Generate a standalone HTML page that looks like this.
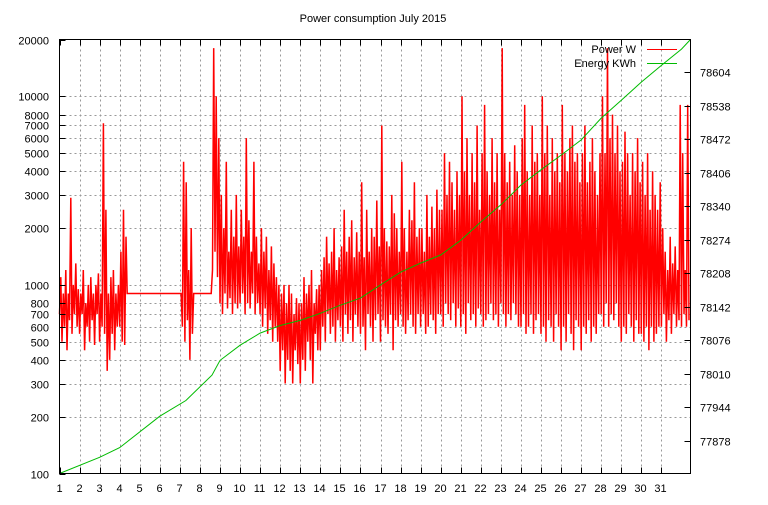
<!DOCTYPE html>
<html><head><meta charset="utf-8"><style>
body{margin:0;background:#fff;font-family:"Liberation Sans",sans-serif;}
svg text{font-family:"Liberation Sans",sans-serif;font-size:11px;fill:#000;}
</style></head><body>
<svg id="chart" width="768" height="500" xmlns="http://www.w3.org/2000/svg">
<rect x="0" y="0" width="768" height="500" fill="#fff"/>
<text x="373" y="22" text-anchor="middle">Power consumption July 2015</text>
<g id="grid"></g>
<g id="series"></g>
<rect x="59.5" y="39.5" width="631" height="434" fill="none" stroke="#000"/>
<g id="axes"></g>
<g>
<text x="636" y="53" text-anchor="end">Power W</text>
<line x1="647" y1="49.5" x2="677" y2="49.5" stroke="#f00"/>
<text x="636" y="67" text-anchor="end">Energy KWh</text>
<line x1="647" y1="63.5" x2="677" y2="63.5" stroke="#0b0"/>
</g>
</svg>
<script>
const xTicks=[1,2,3,4,5,6,7,8,9,10,11,12,13,14,15,16,17,18,19,20,21,22,23,24,25,26,27,28,29,30,31];
const yTicks=[100,200,300,400,500,600,700,800,1000,2000,3000,4000,5000,6000,7000,8000,10000,20000];
const y2Ticks=[77878,77944,78010,78076,78142,78208,78274,78340,78406,78472,78538,78604];
const powerSamplesPerDay=16;
const powerValues=[
700,1100,500,900,600,1200,450,900,650,2900,550,1000,700,1300,600,950,
550,900,700,1200,450,800,600,1000,500,1100,650,900,480,1000,700,1150,
500,900,600,7200,550,2500,350,900,400,1100,550,1200,450,900,600,1000,
600,1500,500,2500,480,1800,900,900,900,900,900,900,900,900,900,900,
900,900,900,900,900,900,900,900,900,900,900,900,900,900,900,900,
900,900,900,900,900,900,900,900,900,900,900,900,900,900,900,900,
900,900,600,4500,500,3500,650,1200,400,2000,550,900,900,900,900,900,
900,900,900,900,900,900,900,900,900,900,1200,18000,1500,10000,1100,6000,
800,3000,700,2000,900,4500,750,1500,850,2500,700,1800,800,3000,750,1600,
800,2500,900,1800,700,6000,800,2200,750,1500,900,4500,700,1800,800,1300,
700,2000,600,1500,750,1800,550,1200,650,1600,500,1300,600,1100,500,1000,
350,900,450,1000,300,800,400,1000,350,900,300,700,450,850,380,800,
300,800,400,1100,350,900,500,1000,400,1200,300,800,550,950,450,1000,
450,1200,600,1400,500,1800,700,1300,550,1500,600,2000,500,1200,650,1400,
600,1600,500,2500,700,1500,550,1800,650,2200,500,1400,700,1900,600,1500,
550,3500,600,1400,450,2500,700,1500,600,2000,500,1800,650,2800,700,1600,
500,7000,650,2000,600,1700,550,1600,700,3000,450,2400,650,2000,600,1500,
700,4500,600,2000,550,1500,650,2500,700,2200,600,3500,550,1800,700,2000,
600,2000,700,1500,550,3000,600,1800,700,2600,650,2000,550,3200,700,2500,
700,2500,600,5000,800,3000,700,4500,650,3500,800,2500,600,4000,750,3000,
600,10000,700,4000,550,6000,800,3000,650,5000,700,3500,600,7000,750,2500,
700,5000,600,9000,650,4000,700,3000,800,6000,650,3500,700,5000,600,2500,
800,18000,700,5000,600,3500,700,4500,650,3000,800,5500,700,4000,600,3000,
600,6000,700,9000,550,4000,600,3000,700,7000,550,4500,650,5000,700,3000,
550,10000,600,5000,500,7000,650,3000,600,6000,500,4000,700,5000,600,3500,
450,9000,600,5000,500,4000,700,6000,550,7000,450,4500,650,5000,600,3500,
450,5000,600,7000,550,3500,650,4500,500,6000,600,4000,550,3000,700,5000,
700,10000,600,5000,800,18000,600,6000,700,8000,650,5000,800,7000,600,4000,
500,4500,600,6500,550,5000,700,3000,600,5000,500,4000,650,6000,550,3500,
550,4500,500,3000,600,5000,450,2500,600,4000,500,3000,550,2500,600,3500,
600,2000,700,1500,500,1200,650,1800,550,1300,700,1600,600,1200,650,9000,
600,5000,700,1200,600,9000,650];
const energyDays=[1,3,4,6,7.3,8.6,9,10,11,12,13,14,15,16,17,18,19,20,21,22,23,24,25,26,27,28,29,30,31,32,32.45];
const energyValues=[77813,77845,77864,77926,77957,78007,78036,78066,78090,78105,78115,78129,78145,78159,78185,78210,78228,78244,78273,78309,78343,78382,78412,78441,78471,78514,78549,78585,78618,78650,78669];

const NS="http://www.w3.org/2000/svg";
const L=59.5,R=690.5,T=39.5,B=473.5;
const xMin=1,xMax=32.45;
const X=d=>L+(d-xMin)/(xMax-xMin)*(R-L);
const Y=v=>B-(Math.log10(v)-2)/(Math.log10(20000)-2)*(B-T);
const e0=77813,e1=78669;
const Y2=v=>B-(v-e0)/(e1-e0)*(B-T);
function mk(tag,attrs,parent){const e=document.createElementNS(NS,tag);for(const k in attrs)e.setAttribute(k,attrs[k]);parent.appendChild(e);return e;}
const grid=document.getElementById('grid'),axes=document.getElementById('axes'),series=document.getElementById('series');
xTicks.forEach(d=>{
  const x=Math.round(X(d))+0.5;
  if(d>1){const g=mk('line',{x1:x,y1:T,x2:x,y2:B,stroke:'#999','stroke-dasharray':'2,3'},grid);
  
  }
  const t=mk('line',{x1:x,y1:B,x2:x,y2:B-6,stroke:'#000'},axes);
  
  
  const t2=mk('line',{x1:x,y1:T,x2:x,y2:T+6,stroke:'#000'},axes);
  
  
  const lb=mk('text',{x:x-1,y:492,'text-anchor':'middle'},axes);lb.textContent=d;
  
  
});
yTicks.forEach(v=>{
  const y=Math.round(Y(v))+0.5;
  if(v>100&&v<20000){const g=mk('line',{x1:L,y1:y,x2:R,y2:y,stroke:'#999','stroke-dasharray':'2,3'},grid);
  
  }
  const t=mk('line',{x1:L,y1:y,x2:L+6,y2:y,stroke:'#000'},axes);
  
  
  const lb=mk('text',{x:49,y:y+4,'text-anchor':'end'},axes);lb.textContent=v;
  
  
});
y2Ticks.forEach(v=>{
  const y=Math.round(Y2(v))+0.5;
  const t=mk('line',{x1:R-6,y1:y,x2:R,y2:y,stroke:'#000'},axes);
  
  
  const lb=mk('text',{x:700,y:y+4,'text-anchor':'start'},axes);lb.textContent=v;
  
  
});
let pd='';
powerValues.forEach((v,i)=>{const d=1+i/powerSamplesPerDay;pd+=(i?'L':'M')+X(d).toFixed(1)+','+Y(v).toFixed(1);});
const pl=mk('path',{d:pd,fill:'none',stroke:'#f00','stroke-width':1.5},series);


let ed='';
energyValues.forEach((v,i)=>{ed+=(i?'L':'M')+X(energyDays[i]).toFixed(1)+','+Y2(v).toFixed(1);});
const el=mk('path',{d:ed,fill:'none',stroke:'#0b0','stroke-width':1},series);


</script>
</body></html>
